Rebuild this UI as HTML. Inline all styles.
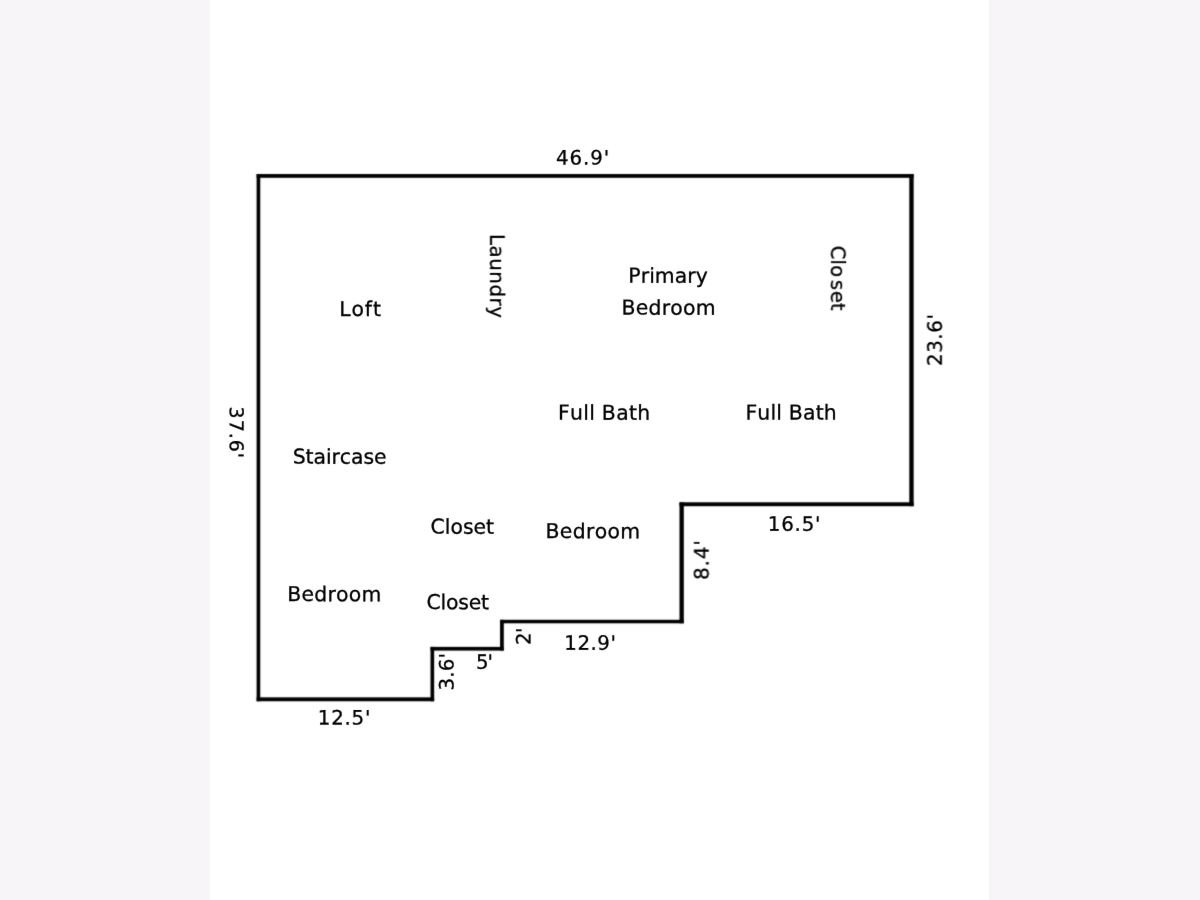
<!DOCTYPE html>
<html lang="en">
<head>
<meta charset="utf-8">
<title>Floor plan</title>
<style>
html,body{margin:0;padding:0;width:1200px;height:900px;overflow:hidden;background:#f7f5f7;}
svg{display:block;position:absolute;left:0;top:0;}
text{font-family:"DejaVu Sans","Liberation Sans",sans-serif;font-size:20.4px;font-kerning:none;text-rendering:geometricPrecision;fill:#000;stroke:#000;stroke-width:0.3px;}
text.d{font-size:19.8px;}
</style>
</head>
<body>
<svg width="1200" height="900" viewBox="0 0 1200 900">
<defs>
<filter id="soft" x="-5%" y="-5%" width="110%" height="110%"><feConvolveMatrix order="3" kernelMatrix="0.0256 0.1088 0.0256 0.1088 0.4624 0.1088 0.0256 0.1088 0.0256" edgeMode="none" preserveAlpha="false"/></filter>
<filter id="softer" x="-5%" y="-5%" width="110%" height="110%"><feConvolveMatrix order="3" kernelMatrix="0.0025 0.0450 0.0025 0.0450 0.8100 0.0450 0.0025 0.0450 0.0025" edgeMode="none" preserveAlpha="false"/></filter>
</defs>
<rect x="0" y="0" width="1200" height="900" fill="#f7f5f7"/>
<rect x="210" y="0" width="779" height="900" fill="#ffffff"/>
<g filter="url(#soft)">
<g fill="#000">
<rect x="256.60" y="174.05" width="657.05" height="3.75"/>
<rect x="909.30" y="174.05" width="4.35" height="332.15"/>
<rect x="679.50" y="502.30" width="234.15" height="3.90"/>
<rect x="679.50" y="502.30" width="4.30" height="121.00"/>
<rect x="500.05" y="619.80" width="183.75" height="3.50"/>
<rect x="500.05" y="619.80" width="3.75" height="30.80"/>
<rect x="430.50" y="646.90" width="73.30" height="3.70"/>
<rect x="430.50" y="646.90" width="3.65" height="54.35"/>
<rect x="256.60" y="697.35" width="177.55" height="3.90"/>
<rect x="256.60" y="174.05" width="3.65" height="527.20"/>
</g>
</g>
<g filter="url(#softer)">
<text class="d" x="556.11" y="164.45" transform="rotate(0.03 582.15 164.45)" style="letter-spacing:0.868px">46.9'</text>
<text x="339.16" y="315.65" transform="rotate(0.03 360.85 315.65)" style="letter-spacing:0.928px">Loft</text>
<text x="628.36" y="282.65" transform="rotate(0.03 668.80 282.65)" style="letter-spacing:0.050px">Primary</text>
<text x="621.46" y="314.65" transform="rotate(0.03 668.75 314.65)" style="letter-spacing:0.259px">Bedroom</text>
<text x="557.96" y="419.65" transform="rotate(0.03 604.25 419.65)" style="letter-spacing:0.289px">Full Bath</text>
<text x="745.46" y="419.45" transform="rotate(0.03 791.30 419.45)" style="letter-spacing:0.176px">Full Bath</text>
<text x="292.67" y="463.65" transform="rotate(0.03 339.75 463.65)" style="letter-spacing:-0.063px">Staircase</text>
<text x="430.58" y="533.65" transform="rotate(0.03 462.60 533.65)" style="letter-spacing:-0.023px">Closet</text>
<text x="545.46" y="538.15" transform="rotate(0.03 593.00 538.15)" style="letter-spacing:0.343px">Bedroom</text>
<text x="287.16" y="601.15" transform="rotate(0.03 334.45 601.15)" style="letter-spacing:0.259px">Bedroom</text>
<text x="426.58" y="609.15" transform="rotate(0.03 458.10 609.15)" style="letter-spacing:-0.223px">Closet</text>
<text class="d" x="767.82" y="530.70" transform="rotate(0.03 794.30 530.70)" style="letter-spacing:0.790px">16.5'</text>
<text class="d" x="564.32" y="649.70" transform="rotate(0.03 590.25 649.70)" style="letter-spacing:0.515px">12.9'</text>
<text class="d" x="475.92" y="668.80" transform="rotate(0.03 484.25 668.80)" style="letter-spacing:-0.952px">5'</text>
<text class="d" x="317.82" y="724.50" transform="rotate(0.03 344.25 724.50)" style="letter-spacing:0.765px">12.5'</text>
<text transform="translate(490.25 234.02) rotate(90.03)" style="font-size:19.8px;letter-spacing:0.565px">Laundry</text>
<text transform="translate(831.25 246.20) rotate(90.03)" x="-0.56 13.37 19.05 33.84 44.85 56.63" style="font-size:19.6px">Closet</text>
<text transform="translate(229.70 406.57) rotate(90.03)" style="font-size:19px;letter-spacing:0.982px">37.6'</text>
<text class="d" transform="translate(941.70 365.99) rotate(-89.97)" style="letter-spacing:0.592px">23.6'</text>
<text class="d" transform="translate(708.50 579.89) rotate(-89.97)" style="letter-spacing:0.947px">8.4'</text>
<text class="d" transform="translate(453.50 690.49) rotate(-89.97)" style="letter-spacing:0.146px">3.6'</text>
<text class="d" transform="translate(530.50 645.09) rotate(-89.97)" style="letter-spacing:-0.452px">2'</text>
</g>
</svg>
</body>
</html>
